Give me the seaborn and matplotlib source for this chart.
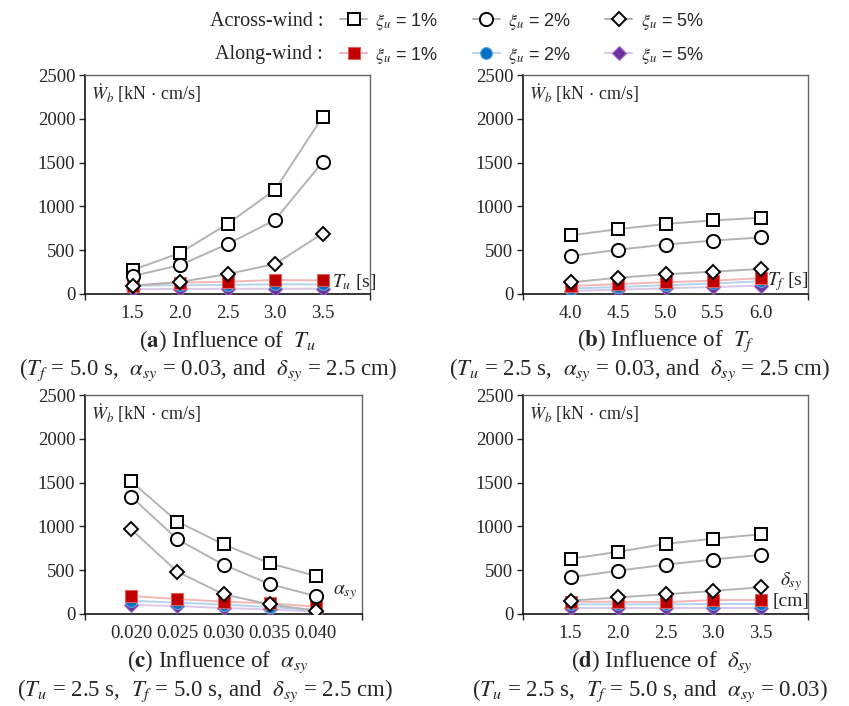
import numpy as np
import pandas as pd
import matplotlib
matplotlib.use("Agg")
import matplotlib.pyplot as plt
from matplotlib.lines import Line2D
import seaborn as sns

sns.set_style("white")
plt.rcParams['font.family'] = ['Liberation Serif', 'DejaVu Serif']
plt.rcParams['mathtext.fontset'] = 'stix'

# ---------------- data ----------------
Tu = [1.5, 2.0, 2.5, 3.0, 3.5]
a_across_1 = [274, 468, 800, 1190, 2020]
a_across_2 = [205, 330, 570, 845, 1505]
a_across_5 = [95, 137, 228, 342, 690]
a_along_1 = [95, 130, 140, 160, 155]
a_along_2 = [95, 100, 105, 110, 110]
a_along_5 = [55, 58, 60, 60, 60]

Tf = [4.0, 4.5, 5.0, 5.5, 6.0]
b_across_1 = [670, 740, 800, 840, 870]
b_across_2 = [434, 505, 565, 610, 645]
b_across_5 = [133, 186, 225, 255, 285]
b_along_1 = [92, 112, 135, 152, 180]
b_along_2 = [62, 80, 100, 120, 145]
b_along_5 = [35, 50, 65, 80, 95]

alpha = [0.020, 0.025, 0.030, 0.035, 0.040]
c_across_1 = [1515, 1054, 796, 579, 434]
c_across_2 = [1340, 853, 563, 342, 205]
c_across_5 = [967, 483, 225, 110, 38]
c_along_1 = [205, 171, 141, 122, 84]
c_along_2 = [152, 129, 107, 80, 46]
c_along_5 = [103, 91, 68, 53, 27]

delta = [1.5, 2.0, 2.5, 3.0, 3.5]
d_across_1 = [630, 710, 800, 860, 910]
d_across_2 = [419, 494, 563, 622, 675]
d_across_5 = [152, 190, 225, 263, 305]
d_along_1 = [140, 140, 135, 160, 160]
d_along_2 = [110, 110, 110, 115, 115]
d_along_5 = [65, 65, 65, 65, 65]

x_ticklabels = {
    'a': ['1.5', '2.0', '2.5', '3.0', '3.5'],
    'b': ['4.0', '4.5', '5.0', '5.5', '6.0'],
    'c': ['0.020', '0.025', '0.030', '0.035', '0.040'],
    'd': ['1.5', '2.0', '2.5', '3.0', '3.5'],
}
y_ticks = [0, 500, 1000, 1500, 2000, 2500]
series_labels = [r'$\xi_u$ = 1%', r'$\xi_u$ = 2%', r'$\xi_u$ = 5%']

# ---------------- styles ----------------
across_line = '#b3b3b3'
along_styles = [
    dict(marker='s', mfc='#c00000', mec='#e06060', line='#f2b6b6', ms=8.5),
    dict(marker='o', mfc='#0070c0', mec='#5aa7dc', line='#b4d3ec', ms=8.5),
    dict(marker='D', mfc='#7030a0', mec='#9a6cc0', line='#d9c7ea', ms=7.0),
]
across_markers = [('s', 8.5), ('o', 9.5), ('D', 7.5)]

fig = plt.figure(figsize=(8.49, 7.06), dpi=100)

W = 849.0
H = 706.0
def fx(px):
    return px / W
def fy(py):
    return 1 - py / H

panels = {
    'a': dict(rect=[fx(85), fy(294), fx(370) - fx(85), fy(75) - fy(294)],
              x=Tu, xlim=(1.0, 4.0),
              across=[a_across_1, a_across_2, a_across_5],
              along=[a_along_1, a_along_2, a_along_5]),
    'b': dict(rect=[fx(523), fy(294), fx(808) - fx(523), fy(75) - fy(294)],
              x=Tf, xlim=(3.5, 6.5),
              across=[b_across_1, b_across_2, b_across_5],
              along=[b_along_1, b_along_2, b_along_5]),
    'c': dict(rect=[fx(85), fy(614), fx(362) - fx(85), fy(395) - fy(614)],
              x=alpha, xlim=(0.015, 0.045),
              across=[c_across_1, c_across_2, c_across_5],
              along=[c_along_1, c_along_2, c_along_5]),
    'd': dict(rect=[fx(523), fy(614), fx(808) - fx(523), fy(395) - fy(614)],
              x=delta, xlim=(1.0, 4.0),
              across=[d_across_1, d_across_2, d_across_5],
              along=[d_along_1, d_along_2, d_along_5]),
}

axes = {}
for key, p in panels.items():
    ax = fig.add_axes(p['rect'])
    axes[key] = ax
    for vals, st in zip(p['along'][::-1], along_styles[::-1]):
        sns.lineplot(x=p['x'], y=vals, ax=ax, color=st['line'], lw=1.4,
                     marker=st['marker'], markersize=st['ms'],
                     markerfacecolor=st['mfc'], markeredgecolor=st['mec'],
                     markeredgewidth=0.8, zorder=3)
    for vals, (m, ms) in zip(p['across'], across_markers):
        sns.lineplot(x=p['x'], y=vals, ax=ax, color=across_line, lw=1.4,
                     marker=m, markersize=ms, markerfacecolor='white',
                     markeredgecolor='black', markeredgewidth=1.4, zorder=4)
    ax.set_xlim(*p['xlim'])
    ax.set_ylim(0, 2500)
    ax.set_yticks(y_ticks)
    ax.set_yticklabels([str(v) for v in y_ticks], fontsize=13.5)
    ax.set_xticks(p['x'])
    ax.set_xticklabels(x_ticklabels[key], fontsize=13.5)
    ax.tick_params(axis='x', length=0, pad=8)
    ax.set_xticks(list(p['xlim']), minor=True)
    ax.tick_params(axis='x', which='minor', length=4, width=1, direction='out', bottom=True)
    ax.tick_params(axis='y', length=4, width=1, direction='out', left=True, pad=3)
    for s in ['left', 'bottom']:
        ax.spines[s].set_color('black')
        ax.spines[s].set_linewidth(1.1)
    for s in ['top', 'right']:
        ax.spines[s].set_color('#666666')
        ax.spines[s].set_linewidth(1.0)
    ax.grid(False)
    ax.text(0.02, 0.915, r'$\dot{W}_b$ [kN $\cdot$ cm/s]', transform=ax.transAxes,
            fontsize=13, ha='left', va='center')

# axis names inside plots
axes['a'].text(0.865, 0.055, r'$T_u$ [s]', transform=axes['a'].transAxes, fontsize=14, va='center')
axes['b'].text(0.855, 0.055, r'$T_f$ [s]', transform=axes['b'].transAxes, fontsize=14, va='center')
axes['c'].text(0.895, 0.1, r'$\alpha_{sy}$', transform=axes['c'].transAxes, fontsize=14, va='center')
axes['d'].text(0.9, 0.15, r'$\delta_{sy}$', transform=axes['d'].transAxes, fontsize=14, va='center')
axes['d'].text(0.875, 0.055, '[cm]', transform=axes['d'].transAxes, fontsize=14, va='center')

# captions
cap = 16.5
fig.text(fx(228), fy(341), r'($\mathbf{a}$) Influence of  $T_u$', ha='center', va='center', fontsize=cap)
fig.text(fx(208), fy(370), r'($T_f$ = 5.0 s,  $\alpha_{sy}$ = 0.03, and  $\delta_{sy}$ = 2.5 cm)',
         ha='center', va='center', fontsize=cap)
fig.text(fx(666), fy(341), r'($\mathbf{b}$) Influence of  $T_f$', ha='center', va='center', fontsize=cap)
fig.text(fx(640), fy(370), r'($T_u$ = 2.5 s,  $\alpha_{sy}$ = 0.03, and  $\delta_{sy}$ = 2.5 cm)',
         ha='center', va='center', fontsize=cap)
fig.text(fx(218), fy(662), r'($\mathbf{c}$) Influence of  $\alpha_{sy}$', ha='center', va='center', fontsize=cap)
fig.text(fx(205), fy(691), r'($T_u$ = 2.5 s,  $T_f$ = 5.0 s, and  $\delta_{sy}$ = 2.5 cm)',
         ha='center', va='center', fontsize=cap)
fig.text(fx(662), fy(662), r'($\mathbf{d}$) Influence of  $\delta_{sy}$', ha='center', va='center', fontsize=cap)
fig.text(fx(650), fy(691), r'($T_u$ = 2.5 s,  $T_f$ = 5.0 s, and  $\alpha_{sy}$ = 0.03)',
         ha='center', va='center', fontsize=cap)

# legends
h_across = [Line2D([], [], color=across_line, lw=1.4, marker=m, markersize=ms,
                   markerfacecolor='white', markeredgecolor='black', markeredgewidth=1.4)
            for (m, ms) in across_markers]
h_along = [Line2D([], [], color=st['line'], lw=1.4, marker=st['marker'], markersize=st['ms'],
                  markerfacecolor=st['mfc'], markeredgecolor=st['mec'], markeredgewidth=0.8)
           for st in along_styles]
leg_kw = dict(ncol=3, frameon=False, loc='center left',
              handlelength=1.5, handletextpad=0.45, columnspacing=1.9,
              borderaxespad=0, borderpad=0, prop={'family': 'Liberation Sans', 'size': 13})
leg1 = fig.legend(h_across, series_labels, bbox_to_anchor=(fx(340), fy(21)), **leg_kw)
leg2 = fig.legend(h_along, series_labels, bbox_to_anchor=(fx(340), fy(55)), **leg_kw)
fig.text(fx(323), fy(21), 'Across-wind :', ha='right', va='center', fontsize=14.5)
fig.text(fx(323), fy(55), 'Along-wind :', ha='right', va='center', fontsize=14.5)

fig.savefig('out.png', dpi=100)
